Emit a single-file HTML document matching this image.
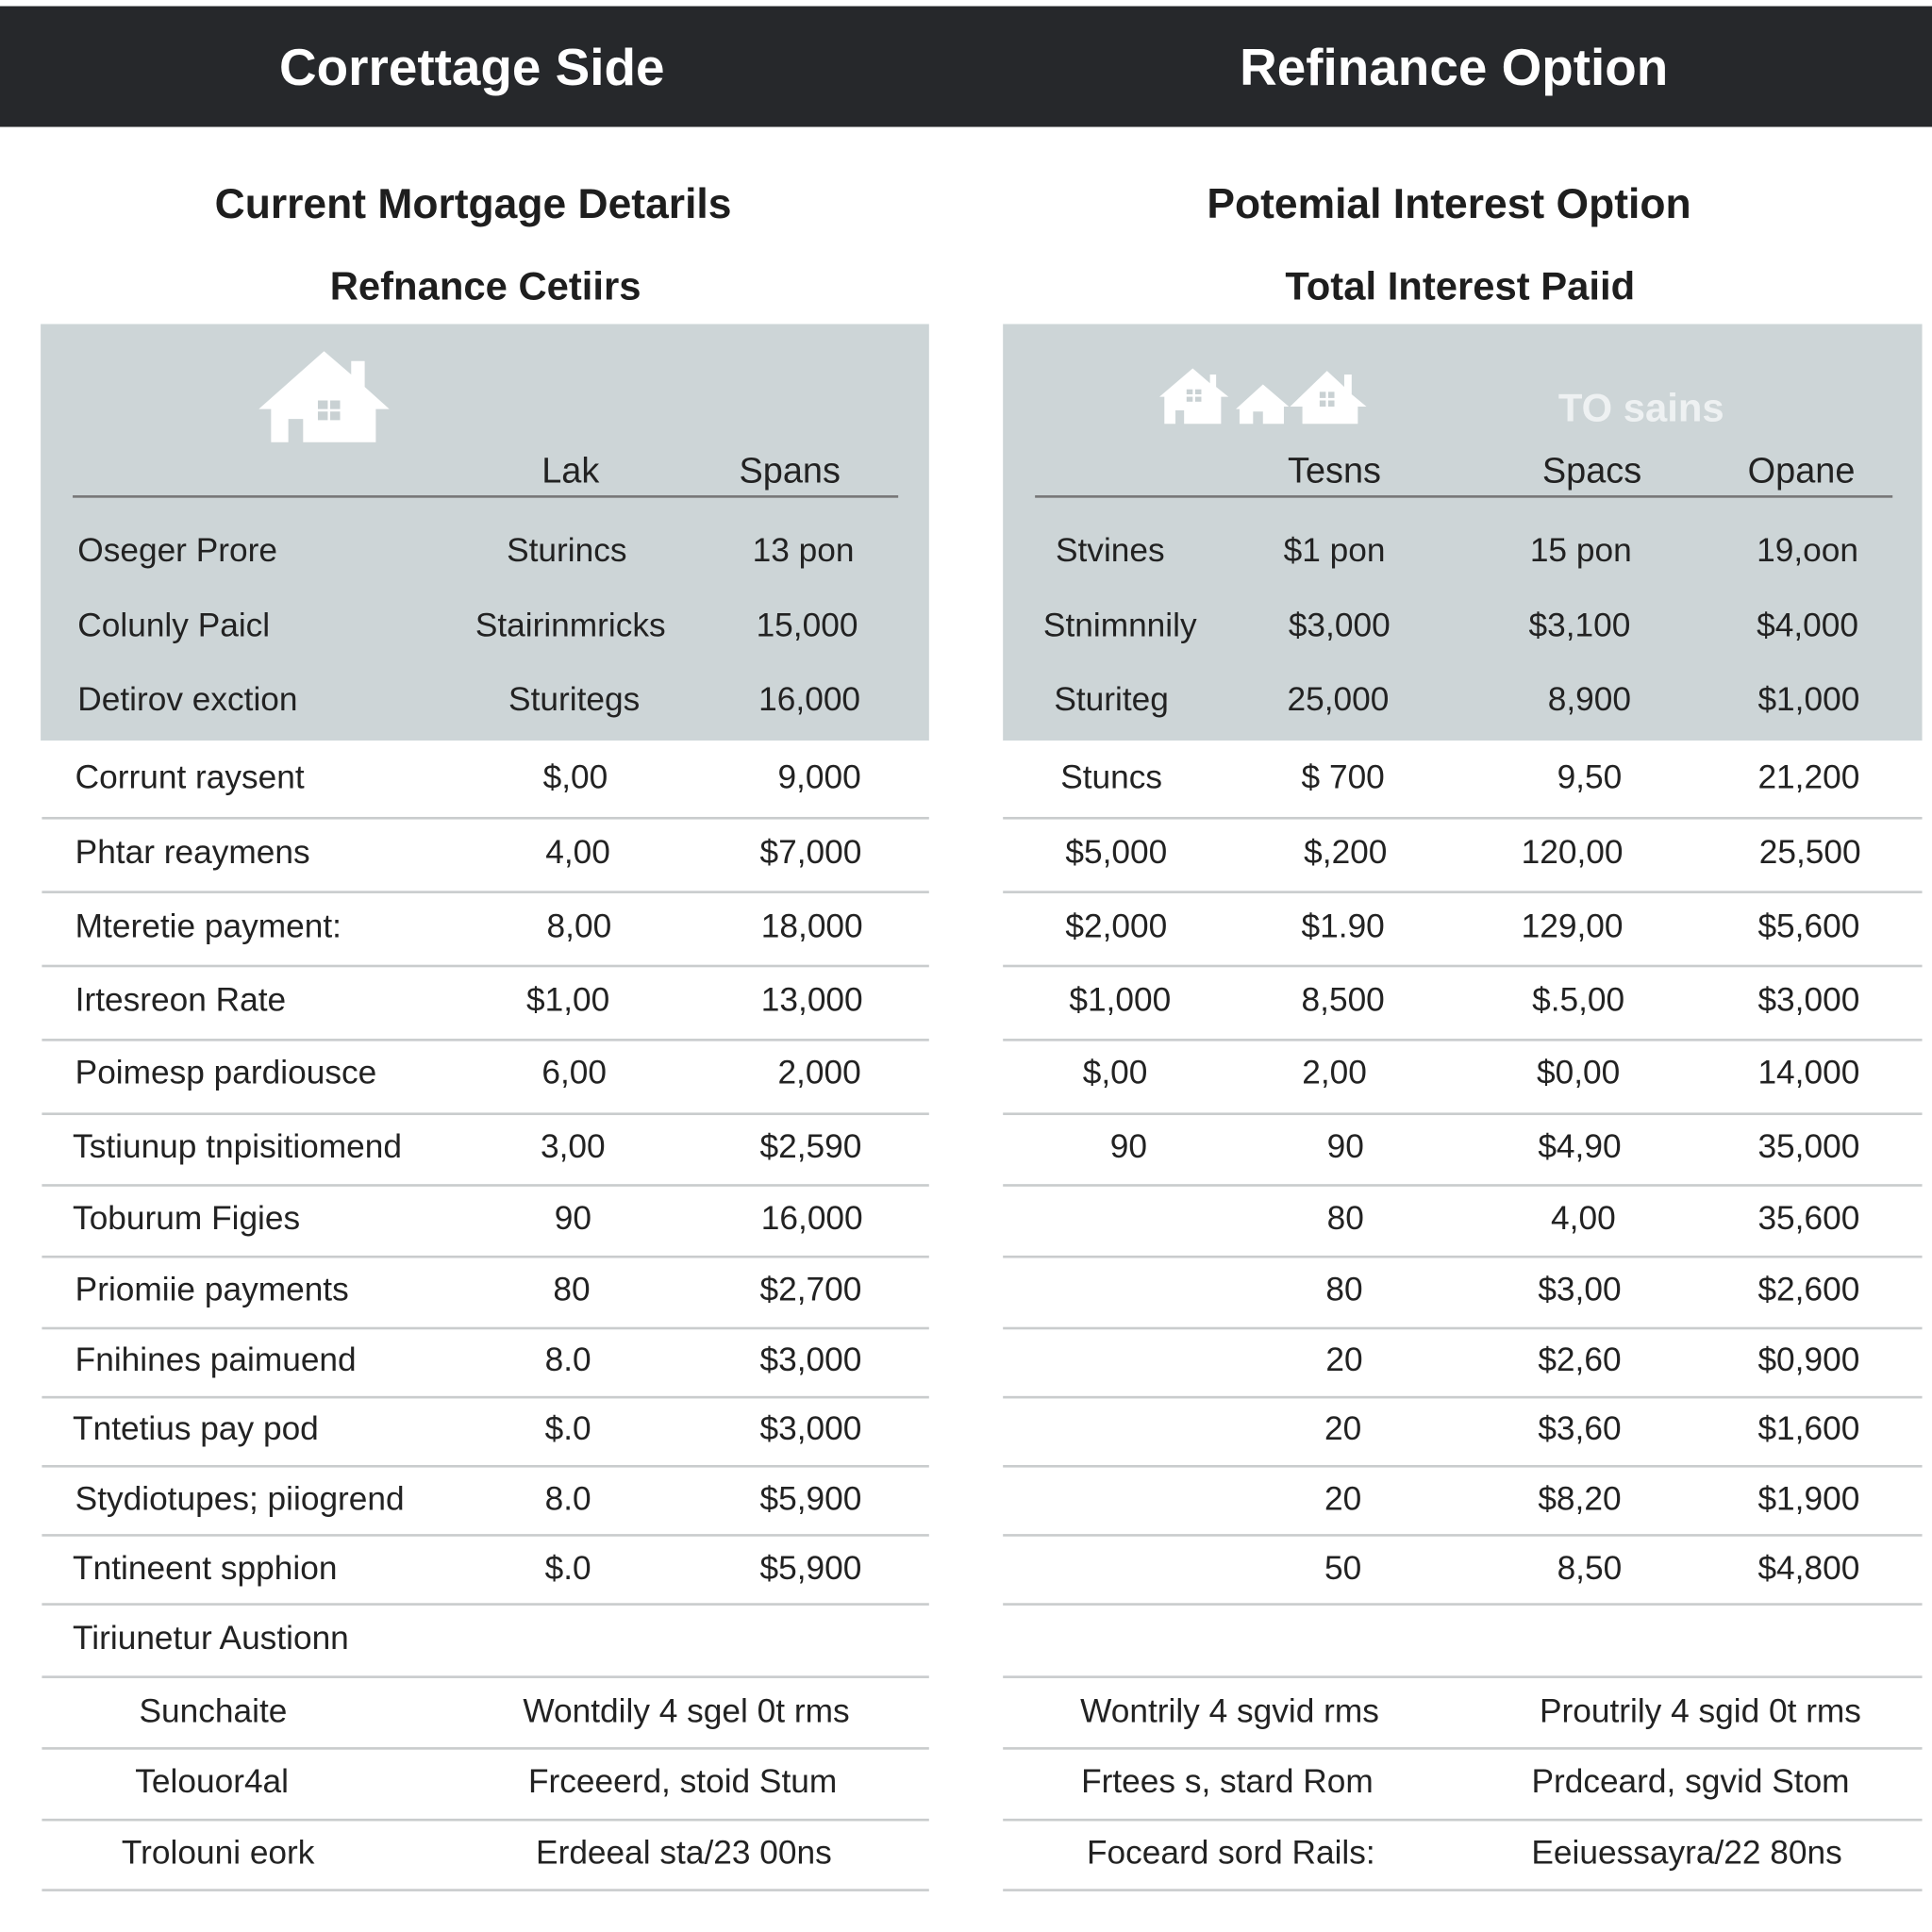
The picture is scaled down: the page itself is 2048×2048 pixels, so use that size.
<!DOCTYPE html>
<html><head><meta charset="utf-8"><style>
html,body{margin:0;padding:0;background:#fff;width:2048px;height:2048px;overflow:hidden}
#root{position:absolute;left:0;top:0;width:1568px;height:1568px;transform:scale(1.306122);transform-origin:0 0;font-family:"Liberation Sans",sans-serif;color:#222}
.a{position:absolute;white-space:nowrap;line-height:1;transform:translate(-50%,-50%)}
.l{position:absolute;white-space:nowrap;line-height:1;transform:translateY(-50%)}
.t{font-size:27px}
.hl{position:absolute;height:2px;background:#c9cccd}
.h1{font-size:42px;font-weight:bold;color:#fff}
.h2{font-size:34px;font-weight:bold;color:#1e1e1e}
.h3{font-size:32px;font-weight:bold;color:#1e1e1e}
</style></head><body>
<div id="root">
<div style="position:absolute;left:0;top:5px;width:1568px;height:98px;background:#26282b"></div>
<div class="a h1" style="left:383px;top:55px">Correttage Side</div>
<div class="a h1" style="left:1180px;top:55px">Refinance Option</div>
<div class="a h2" style="left:384px;top:166px">Current Mortgage Detarils</div>
<div class="a h2" style="left:1176px;top:166px">Potemial Interest Option</div>
<div class="a h3" style="left:394px;top:232px">Refnance Cetiirs</div>
<div class="a h3" style="left:1185px;top:232px">Total Interest Paiid</div>

<div style="position:absolute;left:33px;top:263px;width:721px;height:338px;background:#cdd5d7"></div>
<div style="position:absolute;left:814px;top:263px;width:746px;height:338px;background:#cdd5d7"></div>

<svg style="position:absolute;left:210px;top:285px" width="106" height="74" viewBox="0 0 106 74">
<path d="M0 47 L53 0 L75 19 L75 8 L86 8 L86 29 L106 47 L95 47 L95 74 L36 74 L36 55 L24 55 L24 74 L10 74 L10 47 Z" fill="#fff"/>
<rect x="48" y="40" width="8" height="7" fill="#c9d1d3"/><rect x="58" y="40" width="8" height="7" fill="#c9d1d3"/>
<rect x="48" y="49" width="8" height="7" fill="#c9d1d3"/><rect x="58" y="49" width="8" height="7" fill="#c9d1d3"/>
</svg>
<svg style="position:absolute;left:941px;top:296px" width="173" height="50" viewBox="0 0 173 50">
<path d="M0 26 L27 3 L41 15 L41 8 L46 8 L46 18 L56 26 L50 26 L50 48 L20 48 L20 37 L13 37 L13 48 L4 48 L4 26 Z" fill="#fff"/>
<rect x="22" y="20" width="5" height="4" fill="#c9d1d3"/><rect x="29" y="20" width="5" height="4" fill="#c9d1d3"/><rect x="22" y="26" width="5" height="4" fill="#c9d1d3"/><rect x="29" y="26" width="5" height="4" fill="#c9d1d3"/>
<path d="M62 36 L84 16 L105 34 L101 34 L101 48 L84 48 L84 38 L76 38 L76 48 L65 48 L65 36 Z" fill="#fff"/>
<path d="M106 34 L136 5 L150 18 L150 8 L156 8 L156 24 L168 34 L161 34 L161 48 L116 48 L116 34 Z" fill="#fff"/>
<rect x="130" y="22" width="5" height="5" fill="#c9d1d3"/><rect x="137" y="22" width="5" height="5" fill="#c9d1d3"/><rect x="130" y="29" width="5" height="5" fill="#c9d1d3"/><rect x="137" y="29" width="5" height="5" fill="#c9d1d3"/>
</svg>
<div class="a" style="left:1332px;top:331px;font-size:32px;font-weight:bold;color:#eef1f2">TO sains</div>

<div class="a t" style="left:463px;top:383px;font-size:29px">Lak</div>
<div class="a t" style="left:641px;top:383px;font-size:29px">Spans</div>
<div class="hl" style="left:59px;top:402px;width:670px;background:#777"></div>
<div class="a t" style="left:1083px;top:383px;font-size:29px">Tesns</div>
<div class="a t" style="left:1292px;top:383px;font-size:29px">Spacs</div>
<div class="a t" style="left:1462px;top:383px;font-size:29px">Opane</div>
<div class="hl" style="left:840px;top:402px;width:696px;background:#777"></div>

<!-- gray rows -->
<div class="l t" style="left:63px;top:447px">Oseger Prore</div>
<div class="a t" style="left:460px;top:447px">Sturincs</div>
<div class="a t" style="left:652px;top:447px">13 pon</div>
<div class="l t" style="left:63px;top:508px">Colunly Paicl</div>
<div class="a t" style="left:463px;top:508px">Stairinmricks</div>
<div class="a t" style="left:655px;top:508px">15,000</div>
<div class="l t" style="left:63px;top:568px">Detirov exction</div>
<div class="a t" style="left:466px;top:568px">Sturitegs</div>
<div class="a t" style="left:657px;top:568px">16,000</div>

<div class="a t" style="left:901px;top:447px">Stvines</div>
<div class="a t" style="left:1083px;top:447px">$1 pon</div>
<div class="a t" style="left:1283px;top:447px">15 pon</div>
<div class="a t" style="left:1467px;top:447px">19,oon</div>
<div class="a t" style="left:909px;top:508px">Stnimnnily</div>
<div class="a t" style="left:1087px;top:508px">$3,000</div>
<div class="a t" style="left:1282px;top:508px">$3,100</div>
<div class="a t" style="left:1467px;top:508px">$4,000</div>
<div class="a t" style="left:902px;top:568px">Sturiteg</div>
<div class="a t" style="left:1086px;top:568px">25,000</div>
<div class="a t" style="left:1290px;top:568px">8,900</div>
<div class="a t" style="left:1468px;top:568px">$1,000</div>

<!-- separator lines -->
<div class="hl" style="left:34px;top:663px;width:720px"></div><div class="hl" style="left:814px;top:663px;width:746px"></div>
<div class="hl" style="left:34px;top:723px;width:720px"></div><div class="hl" style="left:814px;top:723px;width:746px"></div>
<div class="hl" style="left:34px;top:783px;width:720px"></div><div class="hl" style="left:814px;top:783px;width:746px"></div>
<div class="hl" style="left:34px;top:843px;width:720px"></div><div class="hl" style="left:814px;top:843px;width:746px"></div>
<div class="hl" style="left:34px;top:903px;width:720px"></div><div class="hl" style="left:814px;top:903px;width:746px"></div>
<div class="hl" style="left:34px;top:961px;width:720px"></div><div class="hl" style="left:814px;top:961px;width:746px"></div>
<div class="hl" style="left:34px;top:1019px;width:720px"></div><div class="hl" style="left:814px;top:1019px;width:746px"></div>
<div class="hl" style="left:34px;top:1077px;width:720px"></div><div class="hl" style="left:814px;top:1077px;width:746px"></div>
<div class="hl" style="left:34px;top:1133px;width:720px"></div><div class="hl" style="left:814px;top:1133px;width:746px"></div>
<div class="hl" style="left:34px;top:1189px;width:720px"></div><div class="hl" style="left:814px;top:1189px;width:746px"></div>
<div class="hl" style="left:34px;top:1245px;width:720px"></div><div class="hl" style="left:814px;top:1245px;width:746px"></div>
<div class="hl" style="left:34px;top:1301px;width:720px"></div><div class="hl" style="left:814px;top:1301px;width:746px"></div>
<div class="hl" style="left:34px;top:1360px;width:720px"></div><div class="hl" style="left:814px;top:1360px;width:746px"></div>
<div class="hl" style="left:34px;top:1418px;width:720px"></div><div class="hl" style="left:814px;top:1418px;width:746px"></div>
<div class="hl" style="left:34px;top:1476px;width:720px"></div><div class="hl" style="left:814px;top:1476px;width:746px"></div>
<div class="hl" style="left:34px;top:1533px;width:720px"></div><div class="hl" style="left:814px;top:1533px;width:746px"></div>

<!-- left white rows -->
<div class="l t" style="left:61px;top:631px">Corrunt raysent</div>
<div class="a t" style="left:467px;top:631px">$,00</div>
<div class="a t" style="left:665px;top:631px">9,000</div>
<div class="l t" style="left:61px;top:692px">Phtar reaymens</div>
<div class="a t" style="left:469px;top:692px">4,00</div>
<div class="a t" style="left:658px;top:692px">$7,000</div>
<div class="l t" style="left:61px;top:752px">Mteretie  payment:</div>
<div class="a t" style="left:470px;top:752px">8,00</div>
<div class="a t" style="left:659px;top:752px">18,000</div>
<div class="l t" style="left:61px;top:812px">Irtesreon Rate</div>
<div class="a t" style="left:461px;top:812px">$1,00</div>
<div class="a t" style="left:659px;top:812px">13,000</div>
<div class="l t" style="left:61px;top:871px">Poimesp pardiousce</div>
<div class="a t" style="left:466px;top:871px">6,00</div>
<div class="a t" style="left:665px;top:871px">2,000</div>
<div class="l t" style="left:59px;top:931px">Tstiunup tnpisitiomend</div>
<div class="a t" style="left:465px;top:931px">3,00</div>
<div class="a t" style="left:658px;top:931px">$2,590</div>
<div class="l t" style="left:59px;top:989px">Toburum Figies</div>
<div class="a t" style="left:465px;top:989px">90</div>
<div class="a t" style="left:659px;top:989px">16,000</div>
<div class="l t" style="left:61px;top:1047px">Priomiie payments</div>
<div class="a t" style="left:464px;top:1047px">80</div>
<div class="a t" style="left:658px;top:1047px">$2,700</div>
<div class="l t" style="left:61px;top:1104px">Fnihines paimuend</div>
<div class="a t" style="left:461px;top:1104px">8.0</div>
<div class="a t" style="left:658px;top:1104px">$3,000</div>
<div class="l t" style="left:59px;top:1160px">Tntetius pay pod</div>
<div class="a t" style="left:461px;top:1160px">$.0</div>
<div class="a t" style="left:658px;top:1160px">$3,000</div>
<div class="l t" style="left:61px;top:1217px">Stydiotupes; piiogrend</div>
<div class="a t" style="left:461px;top:1217px">8.0</div>
<div class="a t" style="left:658px;top:1217px">$5,900</div>
<div class="l t" style="left:59px;top:1273px">Tntineent spphion</div>
<div class="a t" style="left:461px;top:1273px">$.0</div>
<div class="a t" style="left:658px;top:1273px">$5,900</div>
<div class="l t" style="left:59px;top:1330px">Tiriunetur Austionn</div>
<div class="a t" style="left:173px;top:1389px">Sunchaite</div>
<div class="a t" style="left:557px;top:1389px">Wontdily 4  sgel 0t rms</div>
<div class="a t" style="left:172px;top:1446px">Telouor4al</div>
<div class="a t" style="left:554px;top:1446px">Frceeerd, stoid Stum</div>
<div class="a t" style="left:177px;top:1504px">Trolouni eork</div>
<div class="a t" style="left:555px;top:1504px">Erdeeal  sta/23 00ns</div>

<!-- right white rows -->
<div class="a t" style="left:902px;top:631px">Stuncs</div>
<div class="a t" style="left:1090px;top:631px">$ 700</div>
<div class="a t" style="left:1290px;top:631px">9,50</div>
<div class="a t" style="left:1468px;top:631px">21,200</div>
<div class="a t" style="left:906px;top:692px">$5,000</div>
<div class="a t" style="left:1092px;top:692px">$,200</div>
<div class="a t" style="left:1276px;top:692px">120,00</div>
<div class="a t" style="left:1469px;top:692px">25,500</div>
<div class="a t" style="left:906px;top:752px">$2,000</div>
<div class="a t" style="left:1090px;top:752px">$1.90</div>
<div class="a t" style="left:1276px;top:752px">129,00</div>
<div class="a t" style="left:1468px;top:752px">$5,600</div>
<div class="a t" style="left:909px;top:812px">$1,000</div>
<div class="a t" style="left:1090px;top:812px">8,500</div>
<div class="a t" style="left:1281px;top:812px">$.5,00</div>
<div class="a t" style="left:1468px;top:812px">$3,000</div>
<div class="a t" style="left:905px;top:871px">$,00</div>
<div class="a t" style="left:1083px;top:871px">2,00</div>
<div class="a t" style="left:1281px;top:871px">$0,00</div>
<div class="a t" style="left:1468px;top:871px">14,000</div>
<div class="a t" style="left:916px;top:931px">90</div>
<div class="a t" style="left:1092px;top:931px">90</div>
<div class="a t" style="left:1282px;top:931px">$4,90</div>
<div class="a t" style="left:1468px;top:931px">35,000</div>
<div class="a t" style="left:1092px;top:989px">80</div>
<div class="a t" style="left:1285px;top:989px">4,00</div>
<div class="a t" style="left:1468px;top:989px">35,600</div>
<div class="a t" style="left:1091px;top:1047px">80</div>
<div class="a t" style="left:1282px;top:1047px">$3,00</div>
<div class="a t" style="left:1468px;top:1047px">$2,600</div>
<div class="a t" style="left:1091px;top:1104px">20</div>
<div class="a t" style="left:1282px;top:1104px">$2,60</div>
<div class="a t" style="left:1468px;top:1104px">$0,900</div>
<div class="a t" style="left:1090px;top:1160px">20</div>
<div class="a t" style="left:1282px;top:1160px">$3,60</div>
<div class="a t" style="left:1468px;top:1160px">$1,600</div>
<div class="a t" style="left:1090px;top:1217px">20</div>
<div class="a t" style="left:1282px;top:1217px">$8,20</div>
<div class="a t" style="left:1468px;top:1217px">$1,900</div>
<div class="a t" style="left:1090px;top:1273px">50</div>
<div class="a t" style="left:1290px;top:1273px">8,50</div>
<div class="a t" style="left:1468px;top:1273px">$4,800</div>
<div class="a t" style="left:998px;top:1389px">Wontrily 4 sgvid rms</div>
<div class="a t" style="left:1380px;top:1389px">Proutrily 4 sgid 0t rms</div>
<div class="a t" style="left:996px;top:1446px">Frtees s, stard Rom</div>
<div class="a t" style="left:1372px;top:1446px">Prdceard,  sgvid Stom</div>
<div class="a t" style="left:999px;top:1504px">Foceard sord Rails:</div>
<div class="a t" style="left:1369px;top:1504px">Eeiuessayra/22 80ns</div>
</div>
</body></html>
